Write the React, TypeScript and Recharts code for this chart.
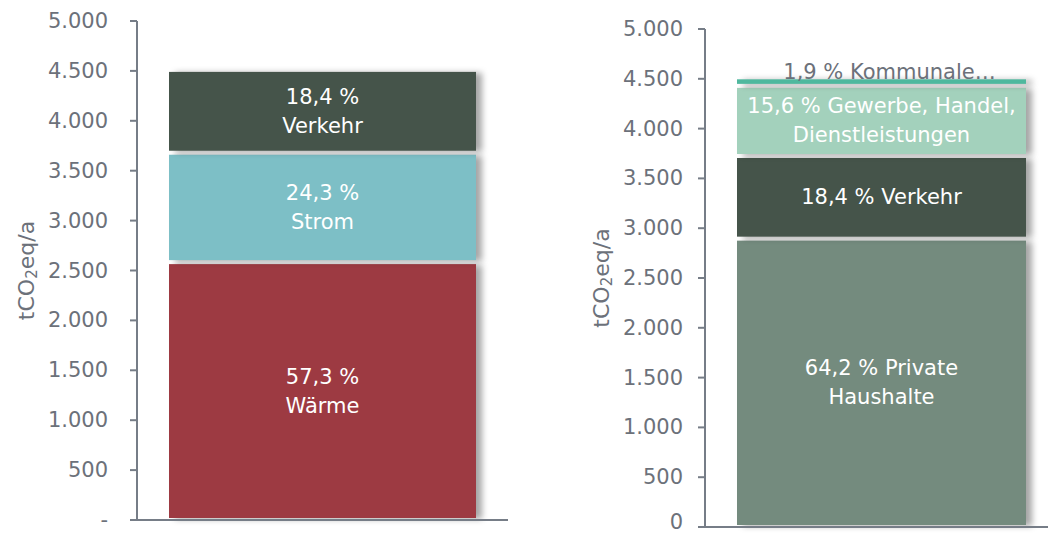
import React from 'react';
import { BarChart, Bar, XAxis, YAxis, LabelList } from 'recharts';

// Linkes Diagramm: Emissionen nach Energieträger
const category = ['Gesamt'];
const leftKeys = ['waerme', 'strom', 'verkehr'];
const leftValues = [2584, 1096, 830];
const leftLabels = [['57,3 %', 'Wärme'], ['24,3 %', 'Strom'], ['18,4 %', 'Verkehr']];
const leftColors = ['#9d3a42', '#7dbfc6', '#45544a'];

// Rechtes Diagramm: Emissionen nach Sektor
const rightKeys = ['haushalte', 'verkehr', 'gewerbe', 'kommunal'];
const rightValues = [2895, 830, 704, 86];
const rightLabels = [
  ['64,2 % Private', 'Haushalte'],
  ['18,4 % Verkehr'],
  ['15,6 % Gewerbe, Handel,', 'Dienstleistungen'],
  ['1,9 % Kommunale…'],
];
const rightColors = ['#748b7e', '#45544a', '#a3d1bc', '#4fb89e'];

const yTicks = [0, 500, 1000, 1500, 2000, 2500, 3000, 3500, 4000, 4500, 5000];

const FONT = '"DejaVu Sans", Verdana, sans-serif';
const AXIS = '#767d87';
const TEXT = '#6c717a';

const leftData = [
  leftKeys.reduce((row: any, k, i) => ({ ...row, [k]: leftValues[i] }), { name: category[0] }),
];
const rightData = [
  rightKeys.reduce((row: any, k, i) => ({ ...row, [k]: rightValues[i] }), { name: category[0] }),
];

const fmt = (zeroDash: boolean) => (v: number) =>
  v === 0 ? (zeroDash ? '-' : '0') : String(v).replace(/\B(?=(\d{3})+(?!\d))/g, '.');

const Segment = (props: any) => {
  const { x, y, width, height, fill } = props;
  return (
    <rect
      x={x}
      y={y + 2}
      width={width}
      height={Math.max(height - 4, 0)}
      fill={fill}
      style={{ filter: 'drop-shadow(6px 1px 3px rgba(0,0,0,0.35))' }}
    />
  );
};

const inside = (lines: string[]) => (p: any) => {
  const cx = p.x + p.width / 2;
  const cy = p.y + p.height / 2;
  const start = cy - ((lines.length - 1) * 29) / 2;
  return (
    <g>
      {lines.map((t, i) => (
        <text key={i} x={cx} y={start + i * 29} textAnchor="middle" dominantBaseline="central"
          fill="#fff" fontSize={21} fontFamily={FONT}>
          {t}
        </text>
      ))}
    </g>
  );
};

const above = (lines: string[]) => (p: any) => (
  <text x={p.x + p.width / 2 + 8} y={p.y + 2} textAnchor="middle" fill={TEXT} fontSize={21} fontFamily={FONT}>
    {lines[0]}
  </text>
);

const unitLabel = (dx: number) => (p: any) => {
  const vb = p.viewBox || {};
  const cx = vb.x + dx;
  const cy = vb.y + vb.height / 2;
  return (
    <text x={cx} y={cy} transform={`rotate(-90 ${cx} ${cy})`} textAnchor="middle" dominantBaseline="central"
      fill={TEXT} fontSize={22} fontFamily={FONT}>
      tCO<tspan dy={6} fontSize={15}>2</tspan>
      <tspan dy={-6}>eq/a</tspan>
    </text>
  );
};

// 0-Beschriftung etwas anheben, damit sie am unteren Rand nicht abgeschnitten wird
const YTick = (zeroDash: boolean) => (p: any) => {
  const v = p.payload.value;
  const lift = v === 0 && !zeroDash ? 5 : 0;
  return (
    <text x={p.x} y={p.y - lift} textAnchor="end" dominantBaseline="central"
      fill={TEXT} fontSize={21} fontFamily={FONT}>
      {fmt(zeroDash)(v)}
    </text>
  );
};

const yAxisProps = {
  domain: [0, 5000] as [number, number],
  ticks: yTicks,
  interval: 0 as const,
  axisLine: { stroke: AXIS, strokeWidth: 2 },
  tickLine: { stroke: AXIS, strokeWidth: 2 },
  tickSize: 7,
};

export default function App() {
  return (
    <div style={{ position: 'absolute', left: 0, top: 0, width: 1048, height: 535, overflow: 'hidden', background: '#fff' }}>
      <div style={{ position: 'absolute', left: 0, top: 0 }}>
        <BarChart width={520} height={535} data={leftData} margin={{ top: 21, right: 12, bottom: 0, left: 0 }}>
          <XAxis dataKey="name" tick={false} tickLine={false} height={15}
            axisLine={{ stroke: AXIS, strokeWidth: 2 }} />
          <YAxis {...yAxisProps} width={137} tickMargin={22} tick={YTick(true)}
            label={{ content: unitLabel(26) }} />
          {leftKeys.map((k, i) => (
            <Bar key={k} dataKey={k} stackId="a" barSize={307} fill={leftColors[i]}
              shape={Segment} isAnimationActive={false}>
              <LabelList dataKey={k} content={inside(leftLabels[i])} />
            </Bar>
          ))}
        </BarChart>
      </div>
      <div style={{ position: 'absolute', left: 560, top: 0 }}>
        <BarChart width={500} height={535} data={rightData} margin={{ top: 29, right: 2, bottom: 0, left: 0 }}>
          <XAxis dataKey="name" tick={false} tickLine={false} height={8}
            axisLine={{ stroke: AXIS, strokeWidth: 2 }} />
          <YAxis {...yAxisProps} width={145} tickMargin={15} tick={YTick(false)}
            label={{ content: unitLabel(41) }} />
          {rightKeys.map((k, i) => (
            <Bar key={k} dataKey={k} stackId="a" barSize={289} fill={rightColors[i]}
              shape={Segment} isAnimationActive={false}>
              <LabelList dataKey={k}
                content={i === rightKeys.length - 1 ? above(rightLabels[i]) : inside(rightLabels[i])} />
            </Bar>
          ))}
        </BarChart>
      </div>
    </div>
  );
}
